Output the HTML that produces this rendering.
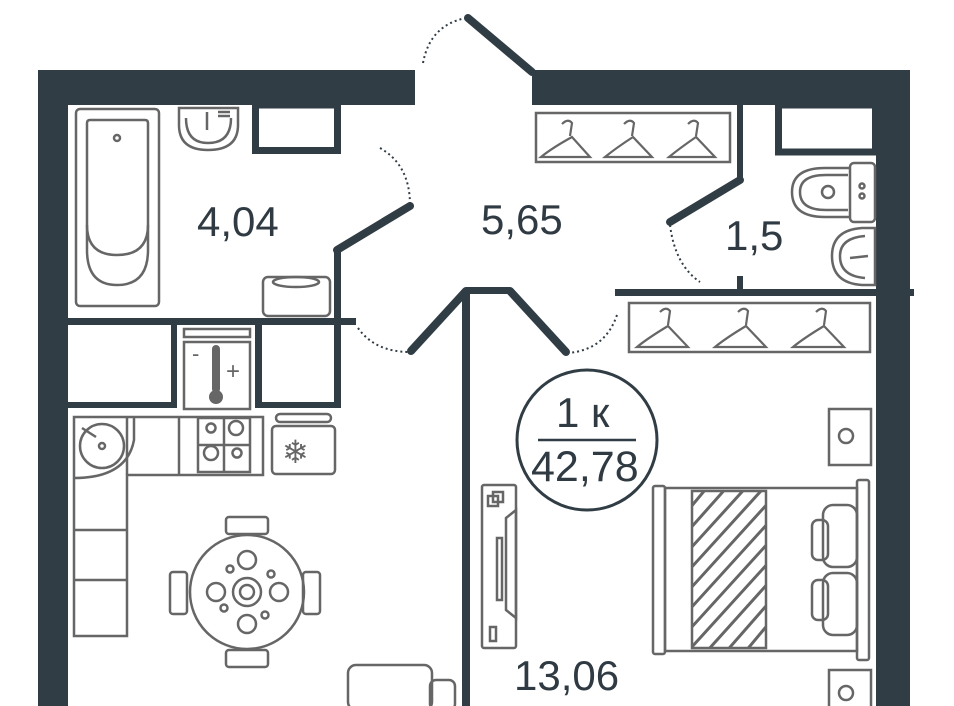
<!DOCTYPE html>
<html><head><meta charset="utf-8"><style>
html,body{margin:0;padding:0;background:#fff;}
svg{display:block;}
text{font-family:"Liberation Sans",sans-serif;fill:#2f3a42;}
</style></head><body>
<svg width="954" height="706" viewBox="0 0 954 706" xmlns="http://www.w3.org/2000/svg">
<defs>
<clipPath id="bl"><rect x="693" y="492" width="72" height="155"/></clipPath>
</defs>
<rect width="954" height="706" fill="#fff"/>
<g fill="#313d45">
  <rect x="38" y="70" width="377" height="35"/>
  <rect x="38" y="70" width="30" height="636"/>
  <rect x="532" y="70" width="378" height="35"/>
  <rect x="876" y="70" width="34" height="636"/>
  <rect x="68" y="318" width="288" height="7"/>
  <rect x="334" y="250" width="7" height="158"/>
  <rect x="462" y="290" width="8" height="416"/>
  <rect x="466" y="287" width="44" height="7"/>
  <rect x="615" y="289" width="299" height="7"/>
  <rect x="737" y="105" width="6" height="77"/>
  <rect x="737" y="276" width="6" height="16"/>
  <rect x="68" y="402" width="109" height="6"/>
  <rect x="171" y="325" width="6" height="83"/>
  <rect x="255" y="325" width="7" height="83"/>
  <rect x="255" y="402" width="86" height="6"/>
</g>
<g fill="none" stroke="#313d45" stroke-width="7">
  <rect x="255.5" y="105" width="82" height="45.5"/>
  <rect x="778.5" y="105" width="97" height="47"/>
</g>
<g stroke="#313d45" stroke-width="8" stroke-linecap="round" fill="none">
  <line x1="468" y1="18" x2="532" y2="72"/>
  <line x1="337" y1="250" x2="410" y2="206"/>
  <line x1="740" y1="180" x2="670" y2="222"/>
  <line x1="411" y1="351" x2="466" y2="291"/>
  <line x1="510" y1="291" x2="566" y2="352"/>
</g>
<g stroke="#313d45" stroke-width="2" stroke-dasharray="2 3" fill="none">
  <path d="M423 63 Q430 25 466 18"/>
  <path d="M380 148 Q410 165 410 205"/>
  <path d="M358 328 Q375 352 410 352"/>
  <path d="M670 225 Q675 265 700 282"/>
  <path d="M617 315 Q605 350 568 353"/>
</g>
<g fill="none" stroke="#666" stroke-width="2.5">
  <rect x="76" y="109" width="83" height="197" rx="4"/>
  <path d="M87 123 Q87 120 90 120 L145 120 Q148 120 148 123 L148 250 Q148 285 117 285 Q87 285 87 250 Z"/>
  <path d="M87 225 Q87 255 117 255 Q148 255 148 225"/>
  <circle cx="117" cy="138" r="3"/>
  <path d="M179 108 L238 108 L238 125 Q238 150 208 150 Q179 150 179 125 Z"/>
  <path d="M186 118 Q186 143 208 143 Q231 143 231 118"/>
  <line x1="207" y1="112" x2="207" y2="130"/>
  <line x1="218" y1="112" x2="230" y2="112"/><line x1="218" y1="116" x2="230" y2="116"/>
  <rect x="263" y="277" width="67" height="39" rx="5"/>
  <ellipse cx="296" cy="282" rx="23" ry="5"/>
  <rect x="536" y="113" width="194" height="49"/>
  <rect x="629" y="303" width="241" height="49"/>
  <rect x="850" y="163" width="25" height="59" rx="4"/>
  <path d="M850 168 L825 168 Q792 168 792 192 Q792 217 825 217 L850 217"/>
  <path d="M848 175 L826 175 Q800 175 800 192 Q800 210 826 210 L848 210"/>
  <circle cx="828" cy="192" r="6"/>
  <circle cx="862" cy="186" r="2.5"/><circle cx="862" cy="196" r="2.5"/>
  <path d="M875 228 L862 228 Q832 230 832 256 Q832 283 862 285 L875 285 Z"/>
  <path d="M865 236 Q840 238 840 256 Q840 276 865 278"/>
  <line x1="850" y1="258" x2="868" y2="256"/>
  <rect x="184" y="329" width="66" height="8"/>
  <rect x="184" y="342" width="66" height="67"/>
  <path d="M74 417 L263 417 L263 475 L127 475 L127 636 L74 636 Z" />
  <line x1="127" y1="416" x2="127" y2="475"/>
  <path d="M74 478 Q127 478 134 440 L134 417"/>
  <circle cx="102" cy="446" r="22"/>
  <circle cx="102" cy="446" r="3"/>
  <line x1="82" y1="428" x2="96" y2="437"/>
  <line x1="74" y1="530" x2="127" y2="530"/>
  <line x1="74" y1="580" x2="127" y2="580"/>
  <line x1="179" y1="417" x2="179" y2="475"/>
  <rect x="198" y="418" width="52" height="54"/>
  <line x1="224" y1="418" x2="224" y2="472"/>
  <line x1="198" y1="445" x2="250" y2="445"/>
  <circle cx="211" cy="428" r="4.5"/><circle cx="236" cy="428" r="7"/>
  <circle cx="211" cy="453" r="7"/><circle cx="237" cy="453" r="4.5"/>
  <rect x="276" y="414" width="55" height="8" rx="4"/>
  <rect x="272" y="426" width="63" height="48" rx="4"/>
  <circle cx="247" cy="592" r="57"/>
  <rect x="226" y="517" width="42" height="17" rx="3"/>
  <rect x="226" y="650" width="42" height="17" rx="3"/>
  <rect x="170" y="572" width="17" height="42" rx="3"/>
  <rect x="303" y="572" width="17" height="42" rx="3"/>
  <circle cx="247" cy="592" r="14"/><circle cx="247" cy="592" r="7"/>
  <circle cx="247" cy="560" r="9"/><circle cx="247" cy="624" r="9"/>
  <circle cx="216" cy="592" r="9"/><circle cx="279" cy="592" r="9"/>
  <circle cx="230" cy="569" r="3.5"/><circle cx="271" cy="574" r="3.5"/>
  <circle cx="224" cy="608" r="3.5"/><circle cx="265" cy="615" r="3.5"/>
  <rect x="348" y="665" width="84" height="45" rx="8"/>
  <rect x="430" y="680" width="25" height="30" rx="6"/>
  <rect x="482" y="485" width="34" height="163" rx="2"/>
  <path d="M516 510 L506 518 L506 610 L516 618 Z"/>
  <rect x="497" y="538" width="5" height="62"/>
  <rect x="488" y="496" width="10" height="10"/><rect x="493" y="492" width="10" height="10"/>
  <rect x="490" y="627" width="6" height="14"/>
  <rect x="653" y="486" width="12" height="168" rx="2"/>
  <rect x="857" y="480" width="12" height="180" rx="2"/>
  <rect x="665" y="488" width="192" height="163"/>
  <rect x="692" y="491" width="74" height="157"/>
  <rect x="823" y="505" width="34" height="62" rx="10"/>
  <rect x="823" y="573" width="34" height="62" rx="10"/>
  <rect x="812" y="520" width="16" height="40" rx="6"/>
  <rect x="812" y="580" width="16" height="40" rx="6"/>
  <rect x="829" y="409" width="42" height="56"/>
  <circle cx="846" cy="436" r="7"/>
  <rect x="829" y="670" width="42" height="40"/>
  <circle cx="846" cy="693" r="7"/>
  <circle cx="587" cy="440" r="70" stroke="#313d45" stroke-width="3"/>
</g>
<g stroke="#666" stroke-width="3" clip-path="url(#bl)">
  <path d="M680 520 L730 460 M680 540 L760 450 M680 560 L780 450 M680 580 L780 470 M680 600 L780 490 M680 620 L780 510 M680 640 L780 530 M680 660 L780 550 M690 670 L780 570 M710 670 L780 590 M730 670 L780 610 M750 670 L780 630"/>
</g>
<g fill="#666">
  <rect x="212" y="345" width="8" height="48" rx="4"/>
  <circle cx="216" cy="397" r="7"/>
</g>
<g fill="none" stroke="#666" stroke-width="2.2">
  <path d="M541 157 Q552 148 572 137 L590 157 Z M562 124 Q568 118 572 123 L570 136"/>
  <path d="M605 157 Q616 148 633 137 L652 157 Z M624 124 Q630 118 634 123 L632 136"/>
  <path d="M669 157 Q680 148 696 137 L715 157 Z M688 124 Q694 118 698 123 L696 136"/>
  <path d="M637 347 Q648 338 668 326 L688 347 Z M660 312 Q666 306 670 311 L668 325"/>
  <path d="M715 347 Q726 338 746 326 L766 347 Z M738 312 Q744 306 748 311 L746 325"/>
  <path d="M793 347 Q804 338 824 326 L844 347 Z M816 312 Q822 306 826 311 L824 325"/>
</g>
<text x="192" y="361" font-size="22" style="fill:#666">-</text>
<text x="226" y="379" font-size="24" style="fill:#666">+</text>
<text x="282" y="463" font-size="32" style="fill:#666">❄</text>
<text x="197" y="236" font-size="42">4,04</text>
<text x="481" y="234" font-size="42">5,65</text>
<text x="725" y="250" font-size="42">1,5</text>
<text x="514" y="690" font-size="42">13,06</text>
<text x="556" y="427" font-size="42">1 к</text>
<line x1="538" y1="440" x2="636" y2="440" stroke="#313d45" stroke-width="2.5"/>
<text x="531" y="481" font-size="43">42,78</text>
</svg>
</body></html>
